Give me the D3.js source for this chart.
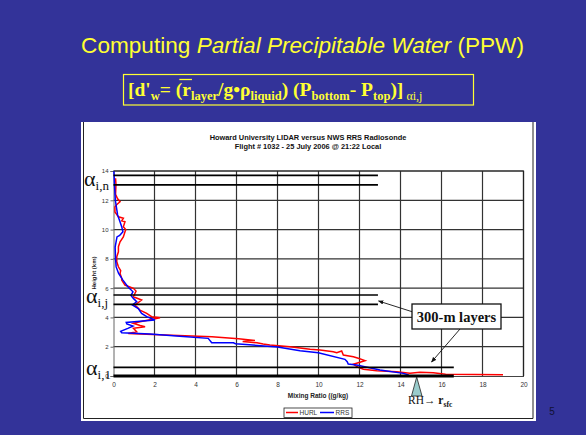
<!DOCTYPE html>
<html>
<head>
<meta charset="utf-8">
<script src="https://cdn.jsdelivr.net/npm/d3@7"></script>
<style>
  html, body { margin: 0; padding: 0; background: #333399; }
  svg { display: block; }
</style>
</head>
<body>
<div id="slide"></div>
<script>
// Slide: PPW computation with HURL vs RRS mixing ratio profile

var X_TICKS = [0, 2, 4, 6, 8, 10, 12, 14, 16, 18, 20];
var Y_TICKS = [0, 2, 4, 6, 8, 10, 12, 14];

// RRS radiosonde (blue): height (km), mixing ratio (g/kg)
var RRS_HEIGHT = [14.0, 13.0, 12.0, 11.0, 10.6, 10.2, 9.85, 9.6, 9.5, 8.8, 8.0, 7.45, 7.0, 6.55, 6.1, 5.75, 5.5, 5.3, 5.07, 4.85, 4.6, 4.28, 4.05, 3.82, 3.66, 3.55, 3.41, 3.25, 3.05, 2.95, 2.87, 2.7, 2.57, 2.27, 2.27, 2.2, 1.98, 1.73, 1.59, 1.14, 0.98, 0.82, 0.75, 0.41, 0.18, 0.07];
var RRS_MIX    = [0.02, 0.05, 0.09, 0.2, 0.3, 0.4, 0.46, 0.3, 0.17, 0.08, 0.1, 0.13, 0.25, 0.46, 0.7, 0.95, 0.85, 0.97, 1.13, 0.92, 1.21, 1.37, 1.62, 2.02, 0.62, 0.65, 0.95, 0.7, 0.35, 0.4, 1.78, 3.4, 4.62, 4.79, 5.85, 5.95, 8.0, 9.1, 9.99, 11.29, 11.4, 11.45, 11.86, 13.0, 14.14, 14.4];

// HURL lidar (red)
var HURL_HEIGHT = [13.5, 13.1, 12.4, 12.1, 11.9, 11.7, 11.55, 11.2, 10.87, 10.77, 10.6, 10.53, 10.19, 10.0, 9.85, 9.5, 9.17, 8.83, 8.48, 8.14, 7.8, 7.46, 7.2, 7.0, 6.67, 6.55, 6.21, 5.99, 5.8, 5.65, 5.41, 5.19, 4.85, 4.5, 4.28, 4.05, 3.98, 3.71, 3.6, 3.45, 3.37, 3.26, 3.02, 2.91, 2.8, 2.68, 2.55, 2.42, 2.35, 2.27, 2.18, 2.12, 2.0, 1.82, 1.77, 1.66, 1.59, 1.71, 1.43, 1.32, 1.21, 1.05, 0.87, 0.8, 0.59, 0.46, 0.36, 0.29, 0.18, 0.25, 0.23, 0.12, 0.08];
var HURL_MIX    = [0.1, 0.12, 0.1, 0.2, 0.32, 0.15, 0.07, 0.07, 0.24, 0.48, 0.4, 0.56, 0.48, 0.6, 0.56, 0.48, 0.32, 0.24, 0.24, 0.16, 0.16, 0.24, 0.35, 0.32, 0.4, 0.4, 0.56, 0.97, 1.1, 1.05, 0.97, 1.37, 1.05, 1.29, 1.62, 1.86, 2.27, 1.29, 0.97, 1.3, 1.54, 0.97, 1.13, 0.72, 2.51, 4.8, 6.1, 6.9, 6.3, 7.0, 7.3, 7.63, 8.61, 9.59, 10.07, 10.72, 10.89, 11.13, 11.21, 11.7, 11.94, 12.27, 11.86, 11.7, 11.94, 12.19, 12.84, 13.81, 14.46, 14.95, 15.6, 16.2, 19.0];

// 300-m layer boundary lines: height (km), extent (g/kg), weight
var LAYER_HEIGHT = [13.7, 13.05, 5.53, 4.89, 0.59, 0.0];
var LAYER_END    = [12.9, 12.9, 12.9, 12.9, 16.6, 16.6];
var LAYER_WIDTH  = [1.6, 1.6, 1.6, 1.6, 1.6, 3.2];

var W = 586, H = 435;
var YELLOW = '#ffff33';
var SERIF = '"Liberation Serif", "Times New Roman", serif';
var SANS = '"Liberation Sans", Arial, sans-serif';

var svg = d3.select('#slide').append('svg')
  .attr('width', W).attr('height', H);

svg.append('rect').attr('width', W).attr('height', H).attr('fill', '#333399');

// slide title
var title = svg.append('text')
  .attr('x', 302.5).attr('y', 53)
  .attr('text-anchor', 'middle')
  .attr('fill', YELLOW)
  .attr('font-family', SANS)
  .attr('font-size', '22.6px');
title.append('tspan').text('Computing ');
title.append('tspan').attr('font-style', 'italic').text('Partial Precipitable Water');
title.append('tspan').text(' (PPW)');

// formula box
svg.append('rect')
  .attr('x', 123.5).attr('y', 74.5).attr('width', 350).attr('height', 30.5)
  .attr('fill', 'none').attr('stroke', YELLOW).attr('stroke-width', 1.2);

var formula = svg.append('text')
  .attr('x', 128).attr('y', 96)
  .attr('fill', YELLOW)
  .attr('font-family', SERIF)
  .attr('font-weight', 'bold');

var parts = [
  ['[d\'', 19.5, 0], ['w', 12.5, 4], ['= (', 19.5, -4], ['r', 19.5, 0], ['layer', 12.5, 4],
  ['/g\u2022\u03c1', 19.5, -4], ['liquid', 12.5, 4], [') (P', 19.5, -4], ['bottom', 12.5, 4],
  ['- P', 19.5, -4], ['top', 12.5, 4], [')]', 19.5, -4]
];
parts.forEach(function (p) {
  formula.append('tspan')
    .attr('font-size', p[1] + 'px')
    .attr('dy', p[2])
    .text(p[0]);
});
formula.append('tspan').attr('font-size', '12px').attr('dy', 4)
  .attr('font-weight', 'normal').text(' \u03b1i,j');

// overline over r
var rIndex = 7; // "[d'" + "w" + "= (" => 3+1+3 chars before r
var rExt = formula.node().getExtentOfChar(rIndex);
svg.append('line')
  .attr('x1', rExt.x - 3).attr('x2', rExt.x + rExt.width + 1)
  .attr('y1', 79.5).attr('y2', 79.5)
  .attr('stroke', YELLOW).attr('stroke-width', 1.3);

// page number
svg.append('text')
  .attr('x', 552).attr('y', 415)
  .attr('text-anchor', 'middle')
  .attr('fill', '#111133')
  .attr('font-family', SANS)
  .attr('font-size', '10px')
  .text('5');

// chart panel
svg.append('rect')
  .attr('x', 81).attr('y', 122).attr('width', 455).attr('height', 299)
  .attr('fill', '#ffffff');
svg.append('path')
  .attr('d', 'M83.5,122V418.5H533V122')
  .attr('fill', 'none').attr('stroke', '#222').attr('stroke-width', 1);

svg.append('text')
  .attr('x', 308).attr('y', 140)
  .attr('text-anchor', 'middle')
  .attr('font-family', SANS).attr('font-weight', 'bold').attr('font-size', '7.4px')
  .attr('fill', '#111')
  .text('Howard University LIDAR versus NWS RRS Radiosonde');
svg.append('text')
  .attr('x', 308).attr('y', 148.5)
  .attr('text-anchor', 'middle')
  .attr('font-family', SANS).attr('font-weight', 'bold').attr('font-size', '7.4px')
  .attr('fill', '#111')
  .text('Flight # 1032 - 25 July 2006 @ 21:22 Local');

var x = d3.scaleLinear().domain([0, 20]).range([113.5, 523.5]);
var y = d3.scaleLinear().domain([0, 14]).range([376, 171]);

var plot = svg.append('g');

// grid
plot.selectAll('line.vgrid')
  .data(X_TICKS.slice(1))
  .enter().append('line')
  .attr('x1', function (d) { return x(d); }).attr('x2', function (d) { return x(d); })
  .attr('y1', y(14)).attr('y2', y(0))
  .attr('stroke', '#333').attr('stroke-width', 1.2);
plot.selectAll('line.hgrid')
  .data(Y_TICKS.slice(1))
  .enter().append('line')
  .attr('x1', x(0)).attr('x2', x(20))
  .attr('y1', function (d) { return y(d); }).attr('y2', function (d) { return y(d); })
  .attr('stroke', '#333').attr('stroke-width', 1.2);

// axes
var xAxis = d3.axisBottom(x).tickValues(X_TICKS).tickSize(0).tickPadding(6);
var gx = plot.append('g').attr('transform', 'translate(0,' + y(0) + ')').call(xAxis);
gx.select('.domain').attr('stroke', '#444').attr('stroke-width', 1);
gx.selectAll('text').attr('font-family', SANS).attr('font-size', '6.5px').attr('fill', '#333');

var yAxis = d3.axisLeft(y).tickValues(Y_TICKS).tickSize(3).tickPadding(2);
var gy = plot.append('g').attr('transform', 'translate(' + x(0) + ',0)').call(yAxis);
gy.select('.domain').attr('stroke', '#666').attr('stroke-width', 1);
gy.selectAll('.tick line').attr('stroke', '#666');
gy.selectAll('text').attr('font-family', SANS).attr('font-size', '6px').attr('fill', '#333');

// axis titles
svg.append('text')
  .attr('transform', 'translate(96,273) rotate(-90)')
  .attr('text-anchor', 'middle')
  .attr('font-family', SANS).attr('font-weight', 'bold').attr('font-size', '6px')
  .attr('fill', '#222')
  .text('Height (km)');
svg.append('text')
  .attr('x', 318).attr('y', 398)
  .attr('text-anchor', 'middle')
  .attr('font-family', SANS).attr('font-weight', 'bold').attr('font-size', '6.5px')
  .attr('fill', '#222')
  .text('Mixing Ratio ((g/kg)');

// profiles
var line = d3.line()
  .x(function (d) { return x(d[0]); })
  .y(function (d) { return y(d[1]); });

var hurl = d3.zip(HURL_MIX, HURL_HEIGHT);
var rrs = d3.zip(RRS_MIX, RRS_HEIGHT);

plot.append('path').attr('d', line(hurl))
  .attr('fill', 'none').attr('stroke', '#ff0000').attr('stroke-width', 1.5);
plot.append('path').attr('d', line(rrs))
  .attr('fill', 'none').attr('stroke', '#0000ff').attr('stroke-width', 1.5);

// layer lines
LAYER_HEIGHT.forEach(function (h, i) {
  plot.append('line')
    .attr('x1', x(0)).attr('x2', x(LAYER_END[i]))
    .attr('y1', y(h)).attr('y2', y(h))
    .attr('stroke', '#000').attr('stroke-width', LAYER_WIDTH[i]);
});

// right/top frame of plot
plot.append('path')
  .attr('d', 'M' + x(0) + ',' + y(14) + 'H' + x(20) + 'V' + y(0))
  .attr('fill', 'none').attr('stroke', '#222').attr('stroke-width', 1.2);

// alpha labels
function alphaLabel(px, py, sub) {
  var t = svg.append('text')
    .attr('x', px).attr('y', py)
    .attr('font-family', SERIF)
    .attr('fill', '#111');
  t.append('tspan').attr('font-size', '22px').text('\u03b1');
  t.append('tspan').attr('font-size', '13px').attr('dy', 4).text(sub);
}
alphaLabel(84, 186, 'i,n');
alphaLabel(86, 303, 'i,j');
alphaLabel(86, 375, 'i,1');

// legend
var lg = svg.append('g');
lg.append('rect').attr('x', 284).attr('y', 408).attr('width', 68).attr('height', 9.5)
  .attr('fill', '#fff').attr('stroke', '#222').attr('stroke-width', 0.8);
lg.append('line').attr('x1', 286).attr('x2', 298).attr('y1', 412.5).attr('y2', 412.5)
  .attr('stroke', '#ff0000').attr('stroke-width', 1.5);
lg.append('text').attr('x', 299.5).attr('y', 415)
  .attr('font-family', SANS).attr('font-size', '6.5px').attr('fill', '#333').text('HURL');
lg.append('line').attr('x1', 320).attr('x2', 334).attr('y1', 412.5).attr('y2', 412.5)
  .attr('stroke', '#0000ff').attr('stroke-width', 1.5);
lg.append('text').attr('x', 335.5).attr('y', 415)
  .attr('font-family', SANS).attr('font-size', '6.5px').attr('fill', '#333').text('RRS');

// 300-m layers callout
svg.append('defs').append('marker')
  .attr('id', 'arrow')
  .attr('viewBox', '0 0 10 10')
  .attr('refX', 9).attr('refY', 5)
  .attr('markerWidth', 6).attr('markerHeight', 6)
  .attr('orient', 'auto')
  .append('path').attr('d', 'M0,1L10,5L0,9Z').attr('fill', '#111');

svg.append('line')
  .attr('x1', 413).attr('y1', 312).attr('x2', 378.5).attr('y2', 301)
  .attr('stroke', '#111').attr('stroke-width', 0.9).attr('marker-end', 'url(#arrow)');
svg.append('line')
  .attr('x1', 460).attr('y1', 329).attr('x2', 431.5).attr('y2', 362)
  .attr('stroke', '#111').attr('stroke-width', 0.9).attr('marker-end', 'url(#arrow)');

svg.append('rect')
  .attr('x', 412).attr('y', 304).attr('width', 89).attr('height', 25)
  .attr('fill', '#fff').attr('stroke', '#111').attr('stroke-width', 1.3);
svg.append('text')
  .attr('x', 456.5).attr('y', 322)
  .attr('text-anchor', 'middle')
  .attr('font-family', SERIF).attr('font-weight', 'bold').attr('font-size', '14.5px')
  .attr('fill', '#111')
  .text('300-m layers');

// RH -> r_sfc marker
svg.append('path')
  .attr('d', 'M416.7,377L422,396H411.5Z')
  .attr('fill', '#99cccc').attr('stroke', '#222').attr('stroke-width', 0.8);
var rh = svg.append('text')
  .attr('x', 408).attr('y', 404)
  .attr('font-family', SERIF).attr('font-size', '11.5px')
  .attr('fill', '#111');
rh.append('tspan').text('RH\u2192 ');
rh.append('tspan').attr('font-weight', 'bold').text('r');
rh.append('tspan').attr('font-weight', 'bold').attr('font-size', '7.5px').attr('dy', 3).text('sfc');
</script>
</body>
</html>
